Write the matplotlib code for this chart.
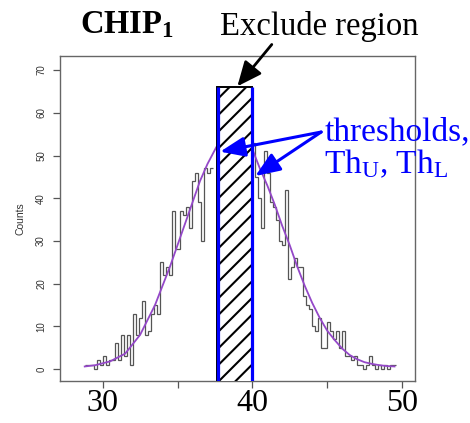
import numpy as np
import matplotlib
matplotlib.use("Agg")
import matplotlib.pyplot as plt
from matplotlib.patches import Rectangle

plt.rcParams['mathtext.fontset'] = 'custom'
plt.rcParams['mathtext.rm'] = 'Liberation Serif'
plt.rcParams['mathtext.it'] = 'Liberation Serif:italic'
plt.rcParams['mathtext.bf'] = 'Liberation Serif:bold'
plt.rcParams['hatch.linewidth'] = 1.5

# ---------------- data ----------------
bin_width = 0.2
left_start = 28.8
left_counts = [1, 1, 1, 0, 2, 1, 3, 1, 2, 2, 6, 2, 8, 3, 8, 1, 13, 8, 12, 16,
               8, 9, 13, 15,
               13, 25, 22, 24, 22, 37, 28, 28, 37, 36, 38, 33, 44, 46, 39, 30,
               47, 46, 47]
right_start = 40.0
right_counts = [53, 45, 40, 33, 51, 46, 39, 38, 35, 30, 29, 42, 21, 24, 26, 24,
                24, 17, 15, 14, 10, 9, 12, 5, 5, 11, 9, 7, 9, 5, 9, 3, 3, 2, 3,
                1, 1, 0, 1, 3, 1, 0, 1, 0, 1, 0, 1, 1]

curve_x = [28.8, 29.5, 30.5, 31.5, 32.5, 33.5, 34.5, 35.5, 36.5, 37.0, 37.6,
           38.0, 38.5, 39.0, 39.5, 40.0, 40.5, 41.0, 41.5, 42.0, 42.5, 43.0,
           43.5, 44.0, 44.5, 45.0, 45.5, 46.0, 46.5, 47.0, 47.5, 48.0, 48.5,
           49.0, 49.5]
curve_y = [0.6, 0.9, 1.8, 3.6, 8.0, 15, 24, 34, 44, 48, 52,
           53.5, 54, 54, 53, 51.5, 47, 43, 38.5, 33.5, 29, 24,
           19.5, 15.5, 12, 9, 6.8, 4.8, 3.3, 2.3, 1.6, 1.2, 0.9,
           0.7, 0.6]

exclude_lo, exclude_hi, exclude_top = 37.62, 40.0, 66
thr_upper, thr_lower = 37.72, 39.98

x_ticks = [30, 35, 40, 45, 50]
x_ticklabels = ['30', '', '40', '', '50']
y_ticks = [0, 10, 20, 30, 40, 50, 60, 70]

# ---------------- figure ----------------
fig = plt.figure(figsize=(4.7, 4.23), dpi=100)
ax = fig.add_axes([0.1277, 0.0993, 0.7553, 0.7683])

hist_color = '#555555'
le = left_start + bin_width * np.arange(len(left_counts) + 1)
re = right_start + bin_width * np.arange(len(right_counts) + 1)
ax.stairs(left_counts, le, baseline=None, color=hist_color, lw=0.9, zorder=2)
ax.stairs(right_counts, re, baseline=None, color=hist_color, lw=0.9, zorder=2)

ax.plot(curve_x, curve_y, color='#9448c8', lw=1.3, zorder=3)

ax.set_xlim(27.15, 50.87)
ax.set_ylim(-2.8, 73.3)

rect = Rectangle((exclude_lo, -10), exclude_hi - exclude_lo, exclude_top + 10,
                 facecolor='white', edgecolor='black', hatch='//', lw=1.4,
                 zorder=4)
ax.add_patch(rect)
ax.vlines([thr_upper, thr_lower], -10, exclude_top, colors='#0000ff', lw=2.3,
          zorder=5)

# axes styling
for sp in ax.spines.values():
    sp.set_color('#666666')
    sp.set_linewidth(1.0)
ax.set_xticks(x_ticks)
ax.set_xticklabels(x_ticklabels, fontfamily='Liberation Serif', fontsize=23)
ax.set_yticks(y_ticks)
ax.set_yticklabels([str(v) for v in y_ticks], rotation=90, va='center',
                   fontfamily='Liberation Sans', fontsize=7, color='#333333')
ax.tick_params(axis='x', length=5, width=0.9, color='#555555', pad=1)
ax.tick_params(axis='y', length=5, width=0.9, color='#555555', pad=5)
ax.set_ylabel('Counts', fontfamily='Liberation Sans', fontsize=7.5,
              color='#333333', labelpad=8)

# titles / annotations
ax.text(28.5, 78.7, r'$\mathbf{CHIP}_\mathbf{1}$', fontsize=23.5,
        ha='left', va='baseline', clip_on=False)
ax.text(37.83, 78.2, 'Exclude region', fontfamily='Liberation Serif',
        fontsize=23.5, ha='left', va='baseline', clip_on=False)
ax.annotate('', xy=(39.0, 66.2), xytext=(41.3, 76.0),
            arrowprops=dict(arrowstyle='-|>,head_length=0.75,head_width=0.33',
                            mutation_scale=20, color='black', lw=2.0,
                            shrinkA=0, shrinkB=0),
            annotation_clip=False, zorder=6)

ax.text(44.8, 53.6, 'thresholds,', fontfamily='Liberation Serif', fontsize=24,
        color='#0000ff', ha='left', va='baseline', clip_on=False)
ax.text(44.8, 45.9, r'Th$_\mathrm{U}$, Th$_\mathrm{L}$',
        fontfamily='Liberation Serif', fontsize=24, color='#0000ff',
        ha='left', va='baseline', clip_on=False)
for tip in [(37.85, 50.9), (40.2, 45.2)]:
    ax.annotate('', xy=tip, xytext=(44.6, 55.5),
                arrowprops=dict(arrowstyle='-|>,head_length=0.75,head_width=0.3',
                                mutation_scale=20, color='#0000ff', lw=2.2,
                                shrinkA=0, shrinkB=0),
                annotation_clip=False, zorder=6)

fig.savefig('out.png', dpi=100)
